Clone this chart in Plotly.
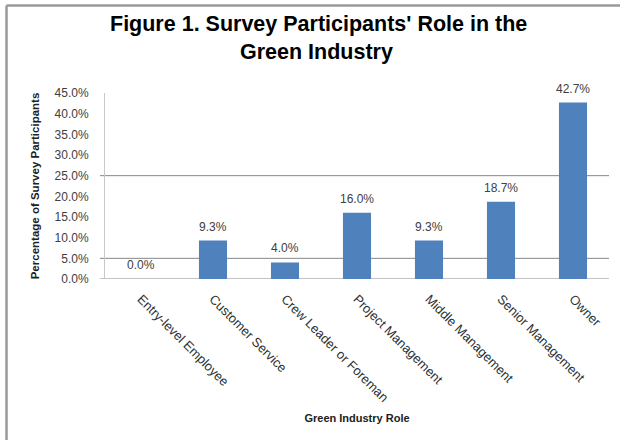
import plotly.graph_objects as go

categories = ["Entry-level Employee", "Customer Service", "Crew Leader or Foreman",
              "Project Management", "Middle Management", "Senior Management", "Owner"]
values = [0.0, 9.3, 4.0, 16.0, 9.3, 18.7, 42.7]
y_ticks = [0, 5, 10, 15, 20, 25, 30, 35, 40, 45]
y_ticktext = [f"{v:.1f}%" for v in y_ticks]
grid_values = [5, 25]
title_lines = ["Figure 1. Survey Participants' Role in the", "Green Industry"]

FONT = "Liberation Sans, Arial, sans-serif"
BAR = "#4F81BD"
TXT = "#404040"

fig = go.Figure()
fig.add_trace(go.Bar(x=categories, y=values, marker=dict(color=BAR, line=dict(width=0)),
                     hoverinfo="skip"))

annotations = []
for c, v in zip(categories, values):
    annotations.append(dict(x=c, y=v, xref="x", yref="y", text=f"{v:.1f}%",
                            showarrow=False, yanchor="bottom", yshift=5,
                            font=dict(family=FONT, size=12, color=TXT)))
# title, two lines
for line, xp, yp in zip(title_lines, [0.4246, 0.4206], [1.372, 1.218]):
    annotations.append(dict(x=xp, y=yp, xref="paper", yref="paper", text=f"<b>{line}</b>",
                            showarrow=False, xanchor="center", yanchor="middle",
                            font=dict(family=FONT, size=21.5, color="black")))

shapes = []
for g in grid_values + [0]:
    shapes.append(dict(type="line", xref="paper", yref="y", x0=-0.01, x1=1, y0=g, y1=g,
                       line=dict(color="#868686", width=1), layer="below"))
# outer frame (left and top edges)
shapes.append(dict(type="line", xref="paper", yref="paper", x0=-0.1954, x1=-0.1954,
                   y0=1.4704, y1=-0.87, line=dict(color="#9a9a9a", width=2.5)))
shapes.append(dict(type="line", xref="paper", yref="paper", x0=-0.1954, x1=1.03,
                   y0=1.4704, y1=1.4704, line=dict(color="#9a9a9a", width=2.5)))

fig.update_layout(
    width=620, height=440,
    margin=dict(l=105, r=11, t=93, b=161),
    paper_bgcolor="white", plot_bgcolor="white",
    showlegend=False,
    bargap=0.61,
    annotations=annotations,
    shapes=shapes,
    font=dict(family=FONT, color=TXT),
)
fig.update_xaxes(showline=False, ticks="", tickangle=45, showgrid=False,
                 tickfont=dict(family=FONT, size=13, color="#303030"),
                 ticklabelstandoff=9,
                 title=dict(text="<b>Green Industry Role</b>", standoff=10,
                            font=dict(family=FONT, size=11, color="#202020")))
fig.update_yaxes(range=[0, 45], tickvals=y_ticks, ticktext=y_ticktext, showgrid=False,
                 zeroline=False, showline=True, linecolor="#c8c8c8", linewidth=1,
                 ticks="", ticklabelstandoff=13,
                 tickfont=dict(family=FONT, size=12, color=TXT),
                 title=dict(text="<b>Percentage of Survey Participants</b>", standoff=12,
                            font=dict(family=FONT, size=11.5, color="#202020")))

fig.write_html("out.html")
